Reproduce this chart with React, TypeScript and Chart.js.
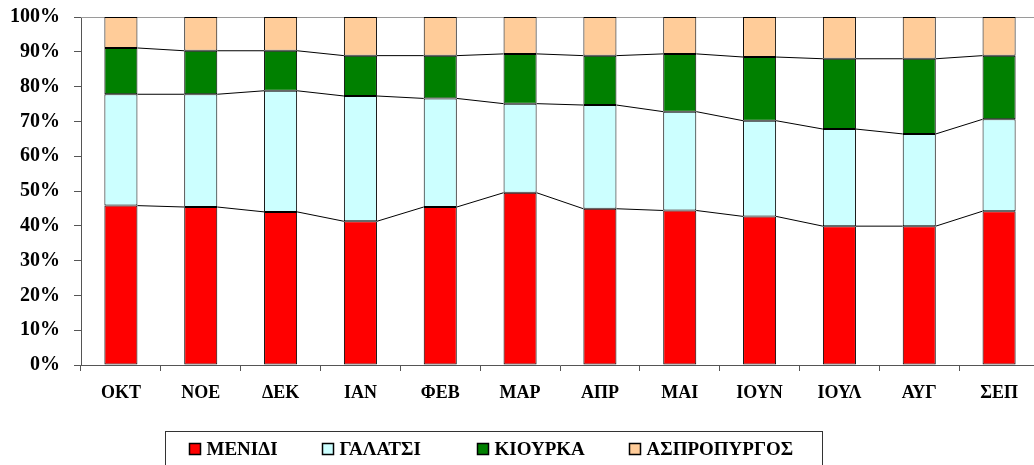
import React, { useEffect, useRef } from "react";
import { Chart, registerables } from "chart.js";

Chart.register(...registerables);

const months = ["ΟΚΤ", "ΝΟΕ", "ΔΕΚ", "ΙΑΝ", "ΦΕΒ", "ΜΑΡ", "ΑΠΡ", "ΜΑΙ", "ΙΟΥΝ", "ΙΟΥΛ", "ΑΥΓ", "ΣΕΠ"];
const seriesNames = ["ΜΕΝΙΔΙ", "ΓΑΛΑΤΣΙ", "ΚΙΟΥΡΚΑ", "ΑΣΠΡΟΠΥΡΓΟΣ"];
const menidi = [45.8, 45.4, 44.0, 41.3, 45.4, 49.5, 44.9, 44.4, 42.7, 39.9, 39.9, 44.2];
const galatsi = [32.0, 32.4, 34.8, 36.0, 31.2, 25.6, 29.8, 28.4, 27.5, 27.9, 26.5, 26.4];
const kiourka = [13.3, 12.5, 11.5, 11.6, 12.3, 14.3, 14.2, 16.6, 18.3, 20.2, 21.6, 18.3];
const aspropyrgos = [8.9, 9.7, 9.7, 11.1, 11.1, 10.6, 11.1, 10.6, 11.5, 12.0, 12.0, 11.1];
const yTicks = [0, 10, 20, 30, 40, 50, 60, 70, 80, 90, 100];

const colors = ["#FF0000", "#CCFFFF", "#008000", "#FFCC99"];
const FONT = "'Liberation Serif', 'Times New Roman', serif";

const seriesLinesPlugin = {
  id: "seriesLines",
  beforeDatasetsDraw(chart: any) {
    const ctx = chart.ctx;
    const ca = chart.chartArea;
    ctx.save();
    ctx.strokeStyle = "#9a9a9a";
    ctx.lineWidth = 1;
    ctx.beginPath();
    ctx.moveTo(ca.left, Math.round(ca.top) + 0.5);
    ctx.lineTo(ca.right, Math.round(ca.top) + 0.5);
    ctx.stroke();
    ctx.restore();
  },
  afterDatasetsDraw(chart: any) {
    const ctx = chart.ctx;
    ctx.save();
    ctx.strokeStyle = "#000";
    ctx.lineWidth = 1;
    const n = chart.data.datasets.length;
    for (let d = 0; d < n - 1; d++) {
      const meta = chart.getDatasetMeta(d);
      for (let j = 0; j < meta.data.length - 1; j++) {
        const a: any = meta.data[j];
        const b: any = meta.data[j + 1];
        ctx.beginPath();
        ctx.moveTo(a.x + a.width / 2, a.y);
        ctx.lineTo(b.x - b.width / 2, b.y);
        ctx.stroke();
      }
    }
    ctx.restore();
  },
};

const legendPlugin = {
  id: "boxLegend",
  afterDraw(chart: any) {
    const ctx = chart.ctx;
    ctx.save();
    ctx.strokeStyle = "#333";
    ctx.lineWidth = 1;
    ctx.strokeRect(165.5, 431.5, 657, 60);
    const itemX = [189.5, 322.5, 477.5, 629.5];
    const boxY = 443.5;
    ctx.font = `bold 19px ${FONT}`;
    ctx.textBaseline = "middle";
    ctx.textAlign = "left";
    chart.data.datasets.forEach((ds: any, i: number) => {
      ctx.fillStyle = ds.backgroundColor;
      ctx.fillRect(itemX[i], boxY, 11, 11);
      ctx.strokeStyle = "#000";
      ctx.lineWidth = 1.5;
      ctx.strokeRect(itemX[i], boxY, 11, 11);
      ctx.fillStyle = "#000";
      ctx.fillText(ds.label, itemX[i] + 17, boxY + 6.5);
    });
    ctx.restore();
  },
};

export default function App() {
  const canvasRef = useRef<HTMLCanvasElement | null>(null);

  useEffect(() => {
    if (!canvasRef.current) return;
    const seriesData = [menidi, galatsi, kiourka, aspropyrgos];
    const chart = new Chart(canvasRef.current, {
      type: "bar",
      data: {
        labels: months,
        datasets: seriesData.map((d, i) => ({
          label: seriesNames[i],
          data: d,
          backgroundColor: colors[i],
          borderColor: "#000",
          borderWidth: 1,
          borderSkipped: false,
          categoryPercentage: 1,
          barPercentage: 0.414,
        })),
      },
      options: {
        responsive: false,
        animation: false,
        devicePixelRatio: 1,
        layout: { padding: { top: 17, left: 0, right: 1, bottom: 40 } },
        plugins: {
          legend: { display: false },
          tooltip: { enabled: false },
        },
        scales: {
          x: {
            stacked: true,
            offset: true,
            grid: {
              offset: true,
              drawOnChartArea: false,
              drawTicks: true,
              tickLength: 6,
              color: "#555",
            },
            border: { color: "#555", width: 1 },
            ticks: {
              color: "#000",
              padding: 12,
              font: { family: FONT, size: 18, weight: "bold" },
              maxRotation: 0,
              autoSkip: false,
            },
            afterFit: (scale: any) => {
              scale.height = 60;
              scale.paddingLeft = 0;
              scale.paddingRight = 0;
            },
          },
          y: {
            stacked: true,
            min: 0,
            max: 100,
            afterBuildTicks: (scale: any) => {
              scale.ticks = yTicks.map((v) => ({ value: v }));
            },
            grid: {
              drawOnChartArea: false,
              drawTicks: true,
              tickLength: 7,
              color: "#555",
            },
            border: { color: "#555", width: 1 },
            ticks: {
              color: "#000",
              padding: 14,
              font: { family: FONT, size: 20, weight: "bold" },
              callback: (v: any) => `${v}%`,
            },
            afterFit: (scale: any) => {
              scale.width = 81;
              scale.paddingTop = 0;
              scale.paddingBottom = 0;
            },
          },
        },
      },
      plugins: [seriesLinesPlugin, legendPlugin],
    });
    return () => chart.destroy();
  }, []);

  return (
    <div
      style={{
        position: "fixed",
        left: 0,
        top: 0,
        width: 1034,
        height: 465,
        overflow: "hidden",
        background: "#fff",
      }}
    >
      <canvas ref={canvasRef} width={1040} height={465} style={{ display: "block" }} />
    </div>
  );
}
